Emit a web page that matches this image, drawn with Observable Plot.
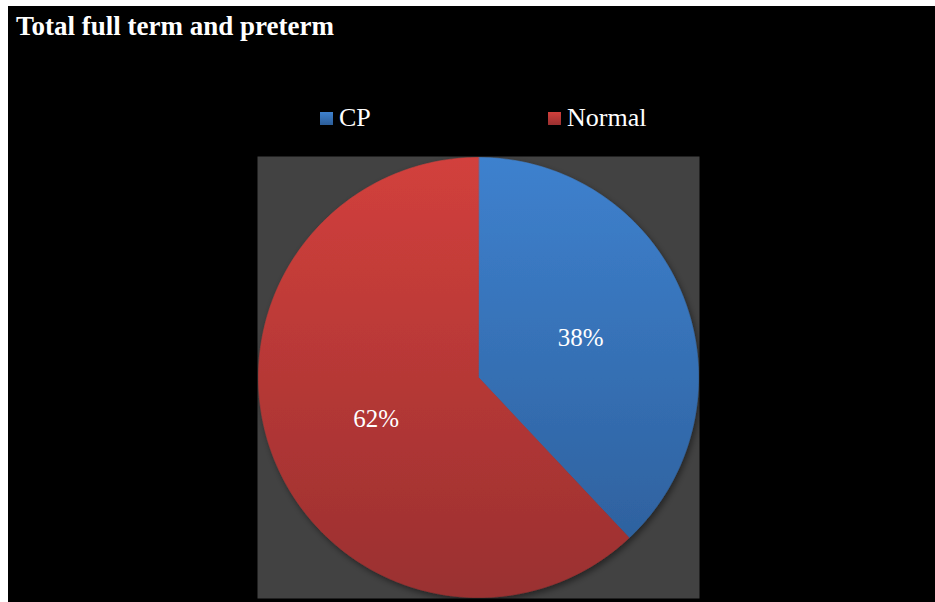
<!DOCTYPE html>
<html>
<head>
<meta charset="utf-8">
<script src="https://cdn.jsdelivr.net/npm/d3@7"></script>
<script src="https://cdn.jsdelivr.net/npm/@observablehq/plot@0.6"></script>
<style>
  html, body { margin: 0; padding: 0; background: #ffffff; }
  #chart { position: absolute; left: 8px; top: 6px; width: 927px; height: 596px; background: #000; overflow: hidden;
           font-family: "Liberation Serif", "Times New Roman", serif; color: #fff; }
  #title { position: relative; height: 70px; }
  #title span { position: absolute; left: 8px; top: 7px; font-size: 27px; font-weight: bold; line-height: 1; white-space: nowrap; }
  #legend { position: relative; height: 62px; }
  .item { position: absolute; top: 29px; font-size: 26px; line-height: 1; white-space: nowrap; }
  .sw { position: absolute; width: 13px; height: 13px; top: 7px; left: 0; }
  .item span.t { position: absolute; left: 19px; top: 0; }
  svg { display: block; }
</style>
</head>
<body>
<div id="chart">
  <div id="title"><span>Total full term and preterm</span></div>
  <div id="legend"></div>
  <div id="plot"></div>
</div>
<script>
const categories = ["CP", "Normal"];
const values = [38, 62];
const labels = ["38%", "62%"];
const colorTop = ["#3e81ce", "#d2403c"];
const colorBottom = ["#2c5d98", "#9a3030"];

// legend
const legendX = [312, 540];
const legend = document.getElementById("legend");
categories.forEach((c, i) => {
  const it = document.createElement("div");
  it.className = "item";
  it.style.left = legendX[i] + "px";
  it.innerHTML = `<span class="sw" style="background:linear-gradient(${colorTop[i]}, ${colorBottom[i]})"></span><span class="t">${c}</span>`;
  legend.appendChild(it);
});

// pie geometry
const arcs = d3.pie().sort(null).value(d => d)(values);
const pts = [];
const N = 180;
arcs.forEach((a, i) => {
  pts.push({cat: categories[i], x: 0, y: 0});
  const n = Math.max(2, Math.round(N * (a.endAngle - a.startAngle) / Math.PI));
  for (let k = 0; k <= n; k++) {
    const t = a.startAngle + (a.endAngle - a.startAngle) * k / n;
    pts.push({cat: categories[i], x: Math.sin(t), y: Math.cos(t)});
  }
});
const lbls = arcs.map((a, i) => {
  const m = (a.startAngle + a.endAngle) / 2;
  return {label: labels[i], x: 0.5 * Math.sin(m), y: 0.5 * Math.cos(m)};
});

const R = 221 / 220;
const plot = Plot.plot({
  width: 927,
  height: 464,
  marginTop: 18,
  marginBottom: 4,
  marginLeft: 249,
  marginRight: 236,
  x: {domain: [-R, R], axis: null},
  y: {domain: [-R, R], axis: null},
  color: {domain: categories, range: ["url(#gCP)", "url(#gNormal)"]},
  style: {background: "#000", color: "#fff", overflow: "visible"},
  marks: [
    Plot.frame({fill: "#424242"}),
    Plot.line(pts, {x: "x", y: "y", z: "cat", fill: "cat", stroke: "cat", strokeWidth: 0.6, curve: "linear-closed"}),
    Plot.text(lbls, {x: "x", y: "y", text: "label", fill: "#fff", fontSize: 25, fontFamily: "Liberation Serif", dy: 1})
  ]
});
document.getElementById("plot").appendChild(plot);

// gradients and shadow
const svg = d3.select(plot);
const defs = svg.insert("defs", ":first-child");
categories.forEach((c, i) => {
  const g = defs.append("linearGradient").attr("id", "g" + c)
    .attr("gradientUnits", "userSpaceOnUse").attr("x1", 0).attr("x2", 0).attr("y1", 19).attr("y2", 459);
  g.append("stop").attr("offset", "0%").attr("stop-color", colorTop[i]);
  g.append("stop").attr("offset", "100%").attr("stop-color", colorBottom[i]);
});
const f = defs.append("filter").attr("id", "shadow").attr("x", "-10%").attr("y", "-10%").attr("width", "120%").attr("height", "120%");
f.append("feDropShadow").attr("dx", 2).attr("dy", 3).attr("stdDeviation", 3).attr("flood-color", "#000").attr("flood-opacity", 0.45);
svg.selectAll("g[aria-label='line']").attr("filter", "url(#shadow)");
</script>
</body>
</html>
